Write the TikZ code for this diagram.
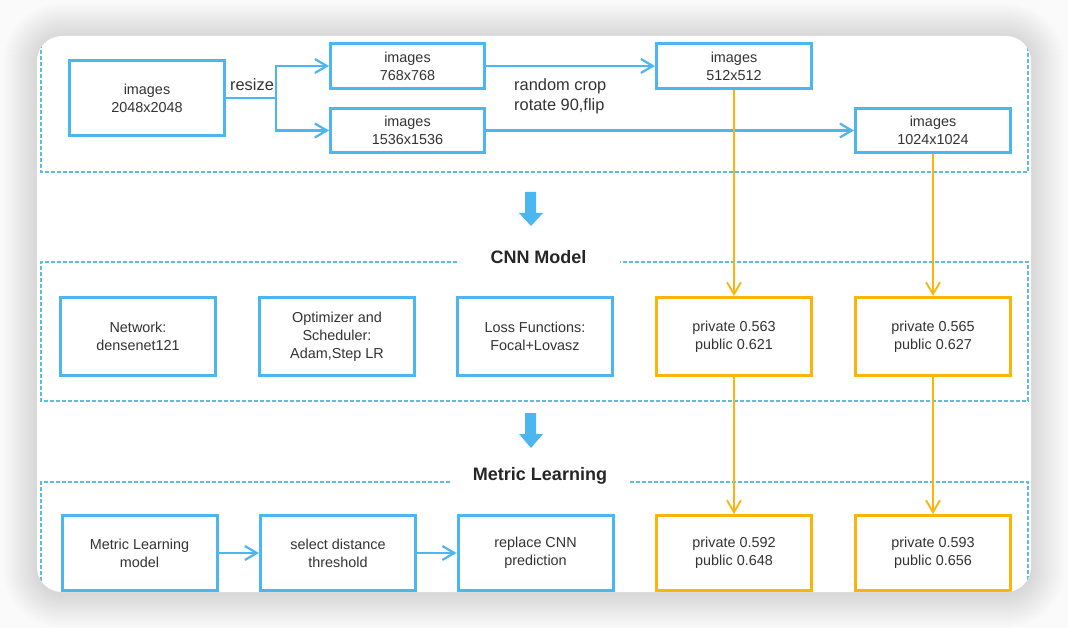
\documentclass[tikz,border=0pt]{standalone}
\usepackage{fontspec}
\setmainfont{Liberation Sans}
\usetikzlibrary{arrows.meta}
\definecolor{boxblue}{RGB}{76,182,240}
\definecolor{dashblue}{RGB}{92,190,222}
\definecolor{scoreorange}{RGB}{250,180,10}
\definecolor{txtgrey}{RGB}{51,51,51}

\begin{document}
\begin{tikzpicture}[x=1pt,y=-1pt,
  box/.style={draw=boxblue,line width=3pt,fill=white,minimum width=155pt,minimum height=78pt,inner sep=0pt,align=center,text=txtgrey,font=\fontsize{14.4}{18}\selectfont},
  smallbox/.style={box,minimum height=45pt},
  lowbox/.style={box,minimum height=75pt},
  scorebox/.style={box,draw=scoreorange},
  bline/.style={boxblue,line width=2.2pt},
  oline/.style={scoreorange,line width=1.8pt},
  barb/.style={-{Straight Barb[length=12pt,width=14pt]}},
  group/.style={dashblue,line width=1.2pt,dash pattern=on 4pt off 2pt},
  title/.style={font=\bfseries\fontsize{18}{22}\selectfont,text=black!85},
  note/.style={text=txtgrey,font=\fontsize{16.4}{20}\selectfont,inner sep=0pt}
]
\useasboundingbox (0,0) rectangle (1068,628);
\fill[white!98!black] (0,0) rectangle (1068,628);

% card shadow
\foreach \i in {1,...,34}
  \fill[black,opacity=0.0055,rounded corners={25pt+\i pt}] (37-\i,37-\i) rectangle (1031+\i,594+\i);
\fill[white,rounded corners=25pt] (37,36) rectangle (1031,592);

\begin{scope}
\clip[rounded corners=25pt] (37,36) rectangle (1031,592);

% groups
\draw[group] (41,20) -- (41,172) -- (1028,172) -- (1028,20);
\draw[group] (457,262) -- (41,262) -- (41,401) -- (1028,401) -- (1028,262) -- (620,262);
\draw[group] (450,482) -- (41,482) -- (41,610) -- (1028,610) -- (1028,482) -- (630,482);

% preprocessing
\node[box,minimum height=75pt] (img2048) at (147,98) {images\\2048x2048};
\node[smallbox,minimum width=154pt] (img768) at (407.5,66) {images\\768x768};
\node[smallbox,minimum width=154pt,minimum height=44pt] (img1536) at (407.5,130.5) {images\\1536x1536};
\node[smallbox] (img512) at (734,66) {images\\512x512};
\node[smallbox,minimum height=44pt] (img1024) at (933,130.5) {images\\1024x1024};

\coordinate (split) at (276,98);
\draw[bline] (img2048.east) -- (split);
\draw[bline,barb] (split) |- (img768.west);
\draw[bline,barb] (split) |- (img1536.west);
\draw[bline,barb] (img768.east) -- (img512.west);
\draw[bline,barb] (img1536.east) -- (img1024.west);
\node[note] (resize) at (252,85) {resize};
\node[note,anchor=west,align=left] (aug) at (514,96.5) {random crop\\rotate 90,flip};

% step arrows
\fill[boxblue] (525,192) -- (536,192) -- (536,213) -- (543,213) -- (531,226) -- (519,213) -- (525,213) -- cycle;
\fill[boxblue] (525,413) -- (536,413) -- (536,434) -- (543,434) -- (531,448) -- (519,434) -- (525,434) -- cycle;

% CNN model
\node[title] (cnn) at (538.5,257) {CNN Model};
\node[box] (net) at (138,336.5) {Network:\\densenet121};
\node[box] (opt) at (337,336.5) {Optimizer and\\Scheduler:\\Adam,Step LR};
\node[box] (loss) at (535,336.5) {Loss Functions:\\Focal+Lovasz};
\node[scorebox] (cnnA) at (734,336.5) {private 0.563\\public 0.621};
\node[scorebox] (cnnB) at (933,336.5) {private 0.565\\public 0.627};

% metric learning
\node[title] (metric) at (540,476) {Metric Learning};
\node[lowbox] (mlm) at (139.5,553) {Metric Learning\\model};
\node[lowbox] (thr) at (338,553) {select distance\\threshold};
\node[lowbox] (rep) at (535.5,553) {replace CNN\\prediction};
\node[lowbox,draw=scoreorange] (mlA) at (734,553) {private 0.592\\public 0.648};
\node[lowbox,draw=scoreorange] (mlB) at (933,553) {private 0.593\\public 0.656};
\draw[bline,barb] (mlm) -- (thr);
\draw[bline,barb] (thr) -- (rep);

% scores
\draw[oline,barb] (img512) -- (cnnA);
\draw[oline,barb] (cnnA) -- (mlA);
\draw[oline,barb] (img1024) -- (cnnB);
\draw[oline,barb] (cnnB) -- (mlB);
\end{scope}
\end{tikzpicture}
\end{document}
